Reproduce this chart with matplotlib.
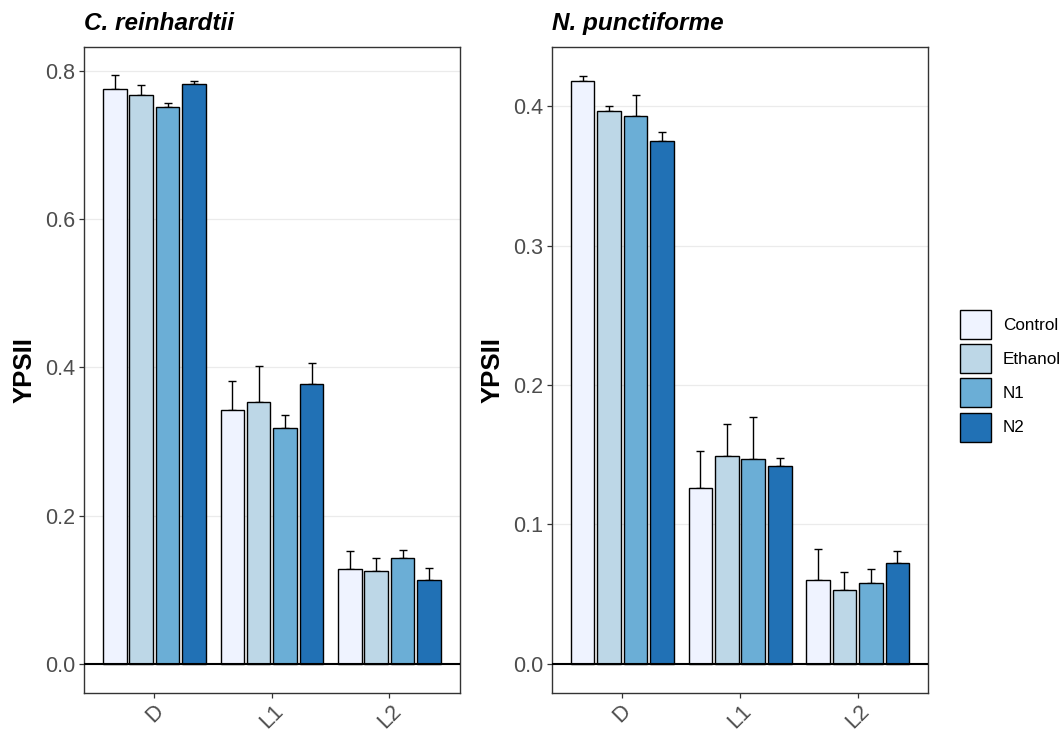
import numpy as np
import matplotlib
matplotlib.use("Agg")
import matplotlib.pyplot as plt
from matplotlib.patches import Patch

plt.rcParams['font.family'] = ['Liberation Sans', 'DejaVu Sans']

# Light conditions (x categories) and treatments (fill groups)
conditions = ["D", "L1", "L2"]
treatments = ["Control", "Ethanol", "N1", "N2"]
colors = ["#EFF3FF", "#BDD7E7", "#6BAED6", "#2171B5"]

# C. reinhardtii: mean YPSII per treatment, one value per condition, and SE
cr_mean = {
    "Control": [0.775, 0.342, 0.128],
    "Ethanol": [0.767, 0.353, 0.125],
    "N1":      [0.751, 0.318, 0.143],
    "N2":      [0.783, 0.378, 0.113],
}
cr_se = {
    "Control": [0.019, 0.040, 0.024],
    "Ethanol": [0.014, 0.049, 0.018],
    "N1":      [0.006, 0.018, 0.010],
    "N2":      [0.004, 0.028, 0.016],
}

# N. punctiforme
np_mean = {
    "Control": [0.418, 0.126, 0.060],
    "Ethanol": [0.397, 0.149, 0.053],
    "N1":      [0.393, 0.147, 0.058],
    "N2":      [0.375, 0.142, 0.072],
}
np_se = {
    "Control": [0.004, 0.027, 0.022],
    "Ethanol": [0.003, 0.023, 0.013],
    "N1":      [0.015, 0.030, 0.010],
    "N2":      [0.007, 0.006, 0.009],
}

panels = [
    ("C. reinhardtii", cr_mean, cr_se, [0.0, 0.2, 0.4, 0.6, 0.8], (-0.0391, 0.8327)),
    ("N. punctiforme", np_mean, np_se, [0.0, 0.1, 0.2, 0.3, 0.4], (-0.0208, 0.4429)),
]

fig = plt.figure(figsize=(10.64, 7.31), dpi=100)
axes_pos = [
    [0.0789, 0.0524, 0.3534, 0.8837],
    [0.5185, 0.0524, 0.3540, 0.8837],
]

dodge = 0.9
bar_w = 0.8 / len(treatments)
pitch = dodge / len(treatments)
x = np.arange(len(conditions))

for pos, (title, means, ses, yticks, ylim) in zip(axes_pos, panels):
    ax = fig.add_axes(pos)
    for i, t in enumerate(treatments):
        xi = x + (i - (len(treatments) - 1) / 2) * pitch
        m = np.array(means[t])
        s = np.array(ses[t])
        ax.errorbar(xi, m, yerr=[np.zeros_like(s), s], fmt='none',
                    ecolor='black', elinewidth=1.0, capsize=3.2,
                    capthick=1.0, zorder=2)
        ax.bar(xi, m, width=bar_w, color=colors[i], edgecolor='black',
               linewidth=1.0, zorder=3)
    ax.axhline(0, color='black', linewidth=1.5, zorder=4)

    ax.set_xlim(-0.6, 2.6)
    ax.set_ylim(*ylim)
    ax.set_yticks(yticks)
    ax.set_yticklabels([f"{v:.1f}" for v in yticks])
    ax.set_xticks(x)
    ax.set_xticklabels(conditions, rotation=45, ha='center', va='top')

    ax.yaxis.grid(True, color='#EBEBEB', linewidth=0.9, zorder=0)
    ax.xaxis.grid(False)
    ax.set_axisbelow(True)

    for sp in ax.spines.values():
        sp.set_color('#333333')
        sp.set_linewidth(1.0)
    ax.tick_params(axis='both', colors='#333333', labelcolor='#4D4D4D',
                   labelsize=15.5, length=3.5, width=0.9, pad=2.5)
    ax.tick_params(axis='x', pad=2.5)

    ax.set_ylabel("YPSII", fontsize=18.5, fontweight='bold', labelpad=6)
    ax.set_title(title, loc='left', fontsize=17.5, fontweight='bold',
                 fontstyle='italic', pad=12)

handles = [Patch(facecolor=c, edgecolor='black', linewidth=1.0, label=t)
           for c, t in zip(colors, treatments)]
fig.legend(handles=handles, loc='center left', bbox_to_anchor=(0.896, 0.486),
           frameon=False, fontsize=12.3, handlelength=1.8, handleheight=2.25,
           labelspacing=0.3, handletextpad=0.7, borderaxespad=0)

fig.savefig("out.png", dpi=100)
